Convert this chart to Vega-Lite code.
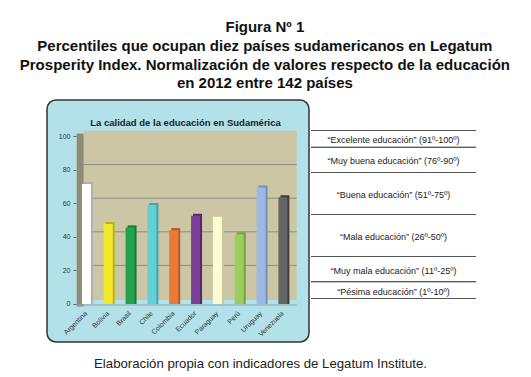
{
  "$schema": "https://vega.github.io/schema/vega-lite/v6.json",
  "padding": {"left": 19, "top": 20, "right": 0, "bottom": 0},
  "background": "#ffffff",
  "title": {
    "text": ["Figura Nº 1", "Percentiles que ocupan diez países sudamericanos en Legatum", "Prosperity Index. Normalización de valores respecto de la educación", "en 2012 entre 142 países"],
    "font": "Liberation Sans", "fontSize": 15, "fontWeight": "bold", "lineHeight": 18.7,
    "color": "#111111", "anchor": "middle", "offset": 8, "dx": 3.5
  },
  "config": {"font": "Liberation Sans", "concat": {"spacing": 0}},
  "spacing": 11,
  "vconcat": [
    {
      "spacing": 0,
      "hconcat": [
        {
          "width": 262, "height": 242,
          "view": {"fill": "#b2e1e9", "stroke": "#333333", "strokeWidth": 1.5, "cornerRadius": 9},
          "title": {"text": "La calidad de la educación en Sudamérica", "font": "Liberation Sans", "fontSize": 9.5, "fontWeight": "bold", "color": "#222222", "offset": -27, "dx": 7.5, "anchor": "middle"},
          "resolve": {"scale": {"x": "independent"}, "axis": {"y": "independent", "x": "independent"}},
          "layer": [
            {
              "data": {"values": [{}]},
              "mark": {"type": "rect", "color": "#8e8a74"},
              "encoding": {
                "x": {"datum": -0.526, "type": "quantitative", "scale": {"domain": [-1.9096, 10.2934], "nice": false, "zero": false}, "axis": null},
                "x2": {"datum": -0.196},
                "y": {"datum": -1.5, "type": "quantitative", "scale": {"domain": [-22.62, 121.43], "nice": false, "zero": false}, "axis": null},
                "y2": {"datum": 101.5}
              }
            },
            {
              "data": {"values": [{}]},
              "mark": {"type": "rect", "color": "#cdc6a5"},
              "encoding": {
                "x": {"datum": -0.196, "type": "quantitative", "scale": {"domain": [-1.9096, 10.2934], "nice": false, "zero": false}, "axis": null},
                "x2": {"datum": 9.72},
                "y": {"datum": 2.38, "type": "quantitative", "scale": {"domain": [-22.62, 121.43], "nice": false, "zero": false}, "axis": null},
                "y2": {"datum": 103.15}
              }
            },
            {
              "data": {"values": [{"v": 20}, {"v": 40}, {"v": 60}, {"v": 80}]},
              "mark": {"type": "rule", "color": "#8c8c8c", "strokeWidth": 1, "yOffset": -5},
              "encoding": {
                "x": {"datum": -0.196, "type": "quantitative", "scale": {"domain": [-1.9096, 10.2934], "nice": false, "zero": false}, "axis": null},
                "x2": {"datum": 9.72},
                "y": {"field": "v", "type": "quantitative", "scale": {"domain": [-22.62, 121.43], "nice": false, "zero": false}, "axis": null}
              }
            },
            {
              "data": {"values": [{}]},
              "mark": {"type": "rule", "color": "#8aa6aa", "strokeWidth": 1, "yOffset": 1},
              "encoding": {
                "x": {"datum": -0.526, "type": "quantitative", "scale": {"domain": [-1.9096, 10.2934], "nice": false, "zero": false}, "axis": null},
                "x2": {"datum": 9.72},
                "y": {"datum": 0, "type": "quantitative", "scale": {"domain": [-22.62, 121.43], "nice": false, "zero": false}, "axis": null}
              }
            },
            {
              "data": {"values": [
                {"pais": "Argentina", "percentil": 71.4},
                {"pais": "Bolivia", "percentil": 47.6},
                {"pais": "Brasil", "percentil": 45.6},
                {"pais": "Chile", "percentil": 58.9},
                {"pais": "Colombia", "percentil": 44.0},
                {"pais": "Ecuador", "percentil": 52.6},
                {"pais": "Paraguay", "percentil": 52.0},
                {"pais": "Perú", "percentil": 41.5},
                {"pais": "Uruguay", "percentil": 69.4},
                {"pais": "Venezuela", "percentil": 63.5}
              ]},
              "resolve": {"scale": {"color": "independent"}},
              "layer": [
                {
                  "mark": {"type": "bar", "width": 9, "xOffset": 2, "yOffset": -2},
                  "encoding": {
                    "x": {"field": "pais", "type": "nominal", "sort": null, "scale": {"paddingInner": 0, "paddingOuter": 1, "align": 0.652},
                      "axis": {"orient": "bottom", "offset": -36, "title": null, "domain": false, "ticks": false, "tickSize": 0, "labelAngle": -45, "labelAlign": "right", "labelBaseline": "middle", "labelPadding": 6, "labelFontSize": 7, "labelColor": "#333333", "labelFont": "Liberation Sans"}},
                    "y": {"field": "percentil", "type": "quantitative", "scale": {"domain": [-22.62, 121.43], "nice": false, "zero": false},
                      "axis": {"orient": "left", "offset": -29, "title": null, "values": [0, 20, 40, 60, 80, 100], "domain": false, "grid": false, "ticks": true, "tickSize": 3, "tickColor": "#666666", "labelPadding": 3, "labelFontSize": 7, "labelColor": "#333333", "labelFont": "Liberation Sans"}},
                    "y2": {"datum": 0},
                    "color": {"field": "pais", "type": "nominal", "legend": null, "scale": {
                      "domain": ["Argentina", "Bolivia", "Brasil", "Chile", "Colombia", "Ecuador", "Paraguay", "Perú", "Uruguay", "Venezuela"],
                      "range": ["#b0b0b0", "#b9b020", "#187a3a", "#3fa6ae", "#b85a25", "#56296c", "#c9c79c", "#74a044", "#7390bb", "#3e3e3e"]}}
                  }
                },
                {
                  "mark": {"type": "bar", "width": 9},
                  "encoding": {
                    "x": {"field": "pais", "type": "nominal", "sort": null, "scale": {"paddingInner": 0, "paddingOuter": 1, "align": 0.652},
                      "axis": {"orient": "bottom", "offset": -36, "title": null, "domain": false, "ticks": false, "tickSize": 0, "labelAngle": -45, "labelAlign": "right", "labelBaseline": "middle", "labelPadding": 6, "labelFontSize": 7, "labelColor": "#333333", "labelFont": "Liberation Sans"}},
                    "y": {"field": "percentil", "type": "quantitative", "scale": {"domain": [-22.62, 121.43], "nice": false, "zero": false},
                      "axis": {"orient": "left", "offset": -29, "title": null, "values": [0, 20, 40, 60, 80, 100], "domain": false, "grid": false, "ticks": true, "tickSize": 3, "tickColor": "#666666", "labelPadding": 3, "labelFontSize": 7, "labelColor": "#333333", "labelFont": "Liberation Sans"}},
                    "y2": {"datum": 0},
                    "color": {"field": "pais", "type": "nominal", "legend": null, "scale": {
                      "domain": ["Argentina", "Bolivia", "Brasil", "Chile", "Colombia", "Ecuador", "Paraguay", "Perú", "Uruguay", "Venezuela"],
                      "range": ["#ffffff", "#f3ea2c", "#22a24f", "#63d0d8", "#ea7a37", "#7b3f98", "#fdfcd2", "#9bcd5f", "#9db9e3", "#656565"]}}
                  }
                }
              ]
            }
          ]
        },
        {
          "width": 165, "height": 242,
          "view": {"stroke": null},
          "data": {"values": [
            {"label": "“Excelente educación” (91º-100º)", "lo": 90, "hi": 100},
            {"label": "“Muy buena educación” (76º-90º)", "lo": 75, "hi": 90},
            {"label": "“Buena educación” (51º-75º)", "lo": 50, "hi": 75},
            {"label": "“Mala educación” (26º-50º)", "lo": 25, "hi": 50},
            {"label": "“Muy mala educación” (11º-25º)", "lo": 10, "hi": 25},
            {"label": "“Pésima educación” (1º-10º)", "lo": 0, "hi": 10}
          ]},
          "transform": [{"calculate": "(datum.lo + datum.hi) / 2", "as": "mid"}],
          "layer": [
            {
              "mark": {"type": "rule", "color": "#555555", "strokeWidth": 1, "yOffset": -5.5},
              "encoding": {"y": {"field": "hi", "type": "quantitative", "scale": {"domain": [-22.62, 121.43], "nice": false, "zero": false}, "axis": null}}
            },
            {
              "mark": {"type": "rule", "color": "#555555", "strokeWidth": 1, "yOffset": -5.5},
              "encoding": {"y": {"field": "lo", "type": "quantitative", "scale": {"domain": [-22.62, 121.43], "nice": false, "zero": false}, "axis": null}}
            },
            {
              "mark": {"type": "text", "font": "Liberation Sans", "fontSize": 9, "color": "#222222", "yOffset": -4, "baseline": "middle", "align": "center"},
              "encoding": {
                "y": {"field": "mid", "type": "quantitative", "scale": {"domain": [-22.62, 121.43], "nice": false, "zero": false}, "axis": null},
                "text": {"field": "label", "type": "nominal"}
              }
            }
          ]
        }
      ]
    },
    {
      "width": 427, "height": 20,
      "view": {"stroke": null},
      "data": {"values": [{"nota": "Elaboración propia con indicadores de Legatum Institute."}]},
      "mark": {"type": "text", "font": "Liberation Sans", "fontSize": 13.2, "color": "#222222", "baseline": "middle", "align": "center"},
      "encoding": {"text": {"field": "nota", "type": "nominal"}}
    }
  ]
}
